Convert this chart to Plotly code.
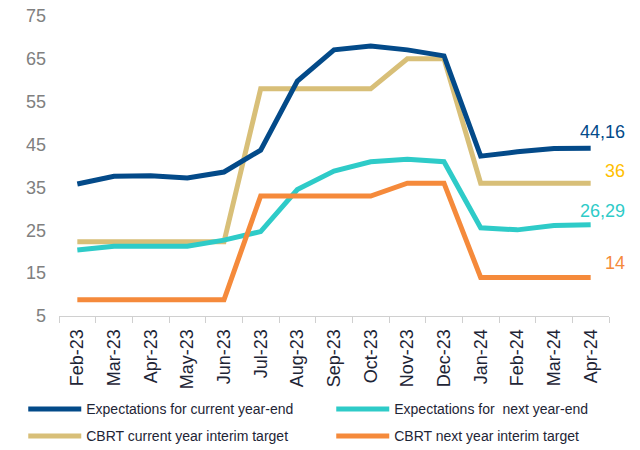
import plotly.graph_objects as go

months = ["Feb-23", "Mar-23", "Apr-23", "May-23", "Jun-23", "Jul-23", "Aug-23", "Sep-23",
          "Oct-23", "Nov-23", "Dec-23", "Jan-24", "Feb-24", "Mar-24", "Apr-24"]

exp_current = [35.8, 37.6, 37.7, 37.2, 38.6, 43.7, 59.8, 67.1, 68.0, 67.1, 65.7, 42.3, 43.3, 44.1, 44.16]
exp_next = [20.4, 21.3, 21.3, 21.3, 22.7, 24.7, 34.5, 38.8, 41.0, 41.6, 41.0, 25.6, 25.1, 26.1, 26.29]
cbrt_current = [22.3, 22.3, 22.3, 22.3, 22.3, 58, 58, 58, 58, 65, 65, 36, 36, 36, 36]
cbrt_next = [8.8, 8.8, 8.8, 8.8, 8.8, 33, 33, 33, 33, 36, 36, 14, 14, 14, 14]

end_labels = ["44,16", "36", "26,29", "14"]

BLUE = "#034A89"
TEAL = "#2ECBC8"
GOLD = "#D8BF78"
ORANGE = "#F58A3B"
TEXT = "#1E2536"

# drawn bottom-to-top; each entry gets its own little legend so the 2x2 grid can be placed by hand
series = [
    ("CBRT current year interim target", cbrt_current, GOLD, "legend3"),
    ("Expectations for  next year-end", exp_next, TEAL, "legend2"),
    ("CBRT next year interim target", cbrt_next, ORANGE, "legend4"),
    ("Expectations for current year-end", exp_current, BLUE, "legend"),
]

fig = go.Figure()
for name, vals, color, leg in series:
    fig.add_trace(go.Scatter(
        x=months, y=vals, name=name, mode="lines",
        line=dict(color=color, width=5), legend=leg,
    ))

label_colors = [BLUE, "#FFC000", TEAL, ORANGE]
label_values = [exp_current[-1], cbrt_current[-1], exp_next[-1], cbrt_next[-1]]
label_yshift = [16, 12, 14, 14]
for text, val, color, ys in zip(end_labels, label_values, label_colors, label_yshift):
    fig.add_annotation(
        x=months[-1], y=val, text=text, showarrow=False,
        xanchor="right", yanchor="middle", xshift=36, yshift=ys,
        font=dict(size=18, color=color),
    )

leg_style = dict(font=dict(size=14, color=TEXT), xanchor="left", yanchor="top",
                 bgcolor="rgba(0,0,0,0)", itemwidth=53)
col_x = [-0.065, 0.495]
row_y = [-0.258, -0.348]
fig.update_layout(
    width=640, height=450,
    margin=dict(l=59, r=31, t=16, b=134, autoexpand=False),
    plot_bgcolor="white", paper_bgcolor="white",
    font=dict(family="Liberation Sans, Arial, sans-serif", color=TEXT),
    showlegend=True,
    legend=dict(x=col_x[0], y=row_y[0], **leg_style),
    legend2=dict(x=col_x[1], y=row_y[0], **leg_style),
    legend3=dict(x=col_x[0], y=row_y[1], **leg_style),
    legend4=dict(x=col_x[1], y=row_y[1], **leg_style),
)

fig.update_xaxes(
    type="category", range=[-0.5, len(months) - 0.5],
    showline=True, linecolor="#D0D0D0", linewidth=1,
    ticks="outside", tickson="boundaries", ticklen=6, tickcolor="#D0D0D0",
    tickangle=-90, tickfont=dict(size=18, color=TEXT), ticklabelstandoff=5,
    showgrid=False, zeroline=False, automargin=False,
)
fig.update_yaxes(
    range=[5, 75], tickvals=[5, 15, 25, 35, 45, 55, 65, 75],
    showgrid=False, zeroline=False, showline=False, automargin=False,
    tickfont=dict(size=18, color="#808080"), ticklabelstandoff=12,
)

fig.write_html("out.html", config={"displayModeBar": False},
               post_script="document.body.style.margin = '0';")
